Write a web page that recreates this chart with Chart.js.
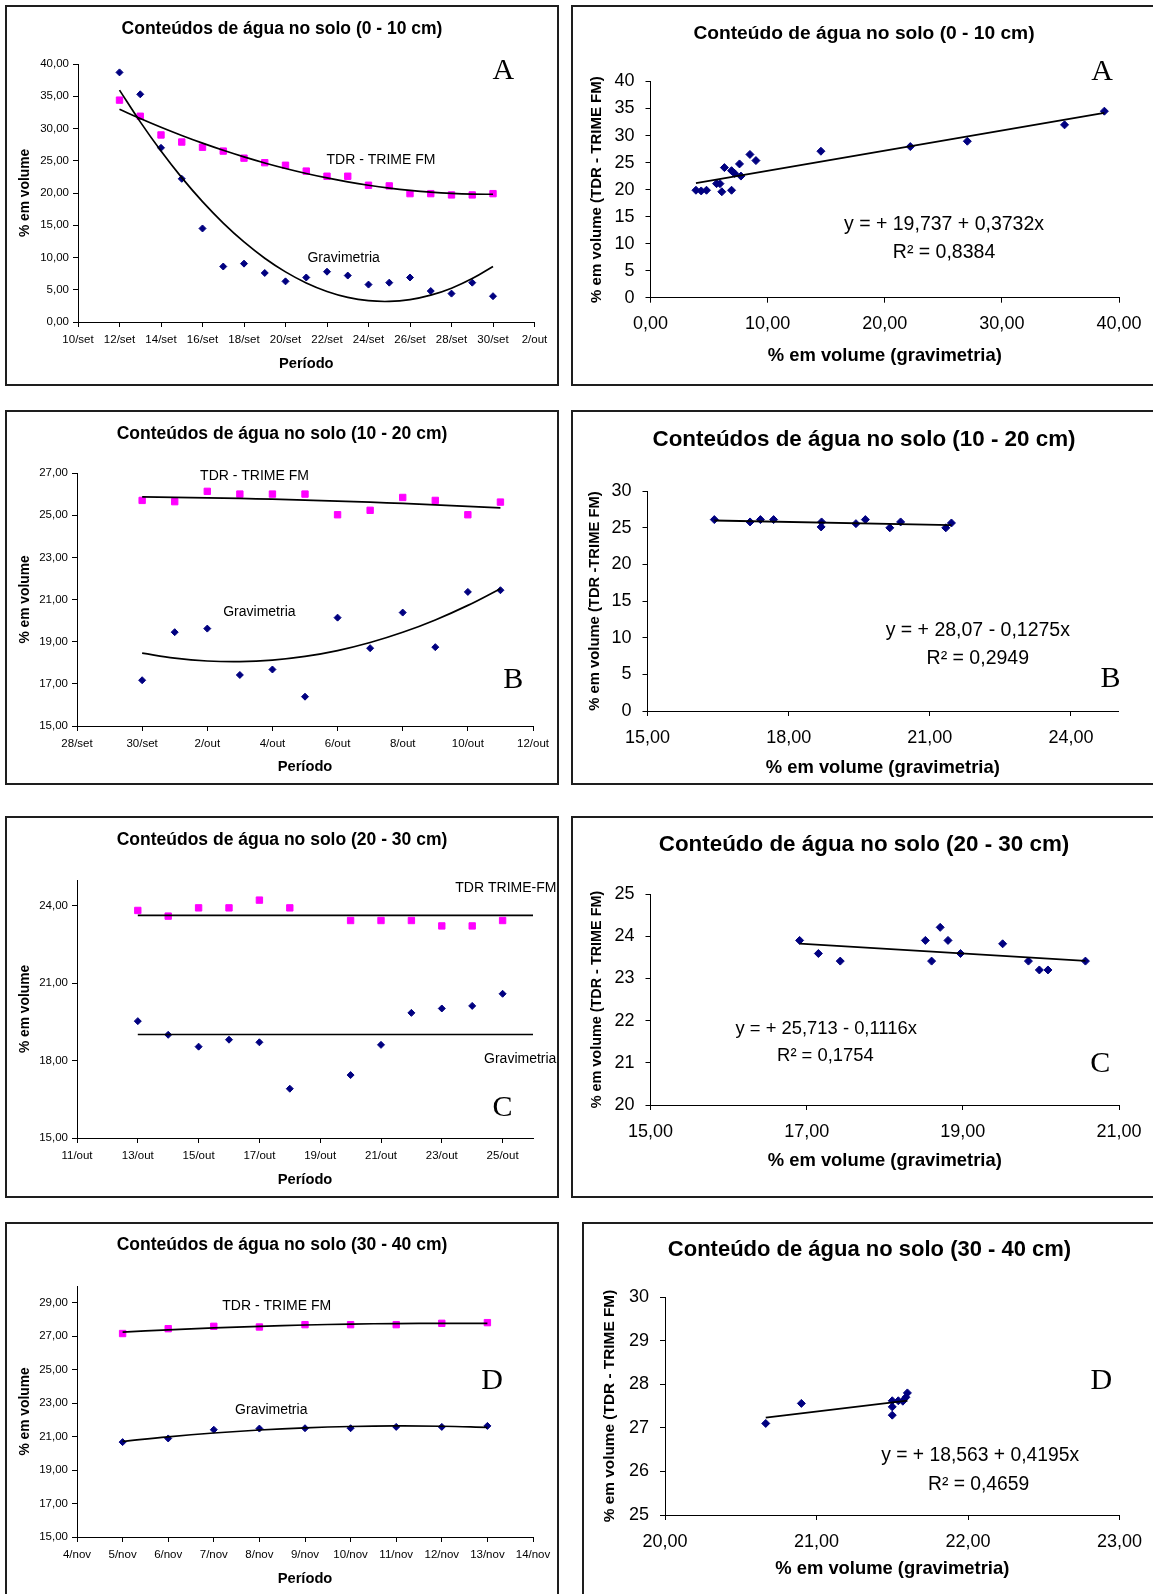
<!DOCTYPE html>
<html lang="pt">
<head>
<meta charset="utf-8">
<title>Conteúdos de água no solo</title>
<script src="https://cdn.jsdelivr.net/npm/chart.js@4.4.1/dist/chart.umd.min.js"></script>
<style>
  html, body { margin: 0; padding: 0; background: #fff; }
  body { width: 1153px; height: 1594px; position: relative; overflow: hidden; }
  canvas { position: absolute; }
  .box { position: absolute; border: 2px solid #1e1e1e; box-sizing: border-box; }
</style>
</head>
<body>
<script>
// ---- data : 0 - 10 cm (setembro) ----
const diasA = [12, 13, 14, 15, 16, 17, 18, 19, 20, 21, 22, 23, 24, 25, 26, 27, 28, 29, 30];
const gravA = [38.7, 35.3, 27.0, 22.2, 14.5, 8.6, 9.05, 7.6, 6.3, 6.9, 7.8, 7.2, 5.8, 6.1, 6.9, 4.8, 4.4, 6.1, 4.0];
const tdrA  = [34.4, 31.9, 29.0, 27.9, 27.1, 26.5, 25.4, 24.7, 24.3, 23.4, 22.6, 22.6, 21.2, 21.1, 19.9, 19.9, 19.7, 19.7, 19.9];
const ticksAx = [10, 12, 14, 16, 18, 20, 22, 24, 26, 28, 30, 32];
const labelsAx = ['10/set', '12/set', '14/set', '16/set', '18/set', '20/set', '22/set', '24/set', '26/set', '28/set', '30/set', '2/out'];
const ticksAy = [0, 5, 10, 15, 20, 25, 30, 35, 40];
const scGravA = [3.88, 4.33, 4.78, 5.64, 5.93, 6.09, 6.31, 6.92, 6.92, 7.18, 7.6, 7.72, 8.49, 9.0, 14.55, 22.18, 27.05, 35.35, 38.75];
const scTdrA  = [19.88, 19.75, 19.88, 21.1, 21.1, 19.6, 24.07, 19.88, 23.5, 23.0, 24.75, 22.5, 26.5, 25.37, 27.1, 27.96, 28.95, 31.98, 34.51];
const eqA = [19.737, 0.3732];

// ---- data : 10 - 20 cm (30/set = 30, 1/out = 31 ...) ----
const diasB = [30, 31, 32, 33, 34, 35, 36, 37, 38, 39, 40, 41];
const gravB = [17.17, 19.45, 19.62, 17.42, 17.68, 16.39, 20.14, 18.69, 20.38, 18.74, 21.36, 21.44];
const tdrB  = [25.70, 25.64, 26.13, 26.0, 26.0, 26.0, 25.02, 25.23, 25.84, 25.70, 25.02, 25.62];
const ticksBx = [28, 30, 32, 34, 36, 38, 40, 42];
const labelsBx = ['28/set', '30/set', '2/out', '4/out', '6/out', '8/out', '10/out', '12/out'];
const ticksBy = [15, 17, 19, 21, 23, 25, 27];
const scGravB = [16.42, 17.18, 17.4, 17.68, 18.69, 18.7, 19.43, 19.63, 20.15, 20.38, 21.34, 21.46];
const scTdrB  = [26.1, 25.78, 26.1, 26.1, 25.1, 25.78, 25.55, 26.1, 24.98, 25.78, 24.98, 25.64];
const eqB = [28.07, -0.1275];

// ---- data : 20 - 30 cm (outubro) ----
const diasC = [13, 14, 15, 16, 17, 18, 20, 21, 22, 23, 24, 25];
const gravC = [19.53, 19.0, 18.54, 18.81, 18.71, 16.91, 17.44, 18.61, 19.85, 20.02, 20.12, 20.59];
const tdrC  = [23.82, 23.6, 23.92, 23.92, 24.22, 23.92, 23.43, 23.43, 23.43, 23.22, 23.22, 23.43];
const ticksCx = [11, 13, 15, 17, 19, 21, 23, 25];
const labelsCx = ['11/out', '13/out', '15/out', '17/out', '19/out', '21/out', '23/out', '25/out'];
const ticksCy = [15, 18, 21, 24];
const scGravC = [16.91, 17.15, 17.43, 18.52, 18.60, 18.71, 18.81, 18.97, 19.51, 19.84, 19.98, 20.09, 20.57];
const scTdrC  = [23.90, 23.59, 23.41, 23.90, 23.41, 24.21, 23.90, 23.59, 23.82, 23.41, 23.20, 23.20, 23.41];
const eqC = [25.713, -0.1116];

// ---- data : 30 - 40 cm (novembro) ----
const diasD = [5, 6, 7, 8, 9, 10, 11, 12, 13];
const gravD = [20.67, 20.89, 21.41, 21.48, 21.50, 21.50, 21.58, 21.58, 21.64];
const tdrD  = [27.16, 27.45, 27.59, 27.55, 27.69, 27.69, 27.69, 27.77, 27.81];
const ticksDx = [4, 5, 6, 7, 8, 9, 10, 11, 12, 13, 14];
const labelsDx = ['4/nov', '5/nov', '6/nov', '7/nov', '8/nov', '9/nov', '10/nov', '11/nov', '12/nov', '13/nov', '14/nov'];
const ticksDy = [15, 17, 19, 21, 23, 25, 27, 29];
const scGravD = [20.665, 20.90, 21.50, 21.50, 21.50, 21.54, 21.57, 21.59, 21.60];
const scTdrD  = [27.10, 27.56, 27.62, 27.48, 27.29, 27.62, 27.61, 27.70, 27.80];
const eqD = [18.563, 0.4195];

const FONT = "'Liberation Sans', Arial, sans-serif";
const SERIF = "'Liberation Serif', 'Times New Roman', serif";
Chart.defaults.font.family = FONT;
Chart.defaults.color = '#000';

const fmt2 = v => v.toFixed(2).replace('.', ',');
const fmt0 = v => String(v);

// least squares polynomial (trend line like the spreadsheet one)
function polyFit(xs, ys, order) {
  const n = order + 1, x0 = xs[0];
  const A = [], b = [];
  for (let i = 0; i < n; i++) { A.push(new Array(n).fill(0)); b.push(0); }
  xs.forEach((x, k) => {
    const t = x - x0;
    for (let i = 0; i < n; i++) {
      b[i] += ys[k] * Math.pow(t, i);
      for (let j = 0; j < n; j++) A[i][j] += Math.pow(t, i + j);
    }
  });
  for (let i = 0; i < n; i++) {
    for (let r = i + 1; r < n; r++) {
      const f = A[r][i] / A[i][i];
      for (let c = i; c < n; c++) A[r][c] -= f * A[i][c];
      b[r] -= f * b[i];
    }
  }
  const c = new Array(n).fill(0);
  for (let i = n - 1; i >= 0; i--) {
    let s = b[i];
    for (let j = i + 1; j < n; j++) s -= A[i][j] * c[j];
    c[i] = s / A[i][i];
  }
  return x => c.reduce((acc, ci, i) => acc + ci * Math.pow(x - x0, i), 0);
}

function pts(xs, ys) { return xs.map((x, i) => ({x: x, y: ys[i]})); }

function trendSet(xs, ys, order, xEnd) {
  const f = polyFit(xs, ys, order);
  const xx = xEnd ? [xs[0], xEnd] : xs;
  return { data: xx.map(x => ({x: x, y: f(x)})), showLine: true, pointRadius: 0,
           borderColor: '#000', borderWidth: 1.7, tension: 0.4, fill: false };
}
function lineSet(xs, eq) {
  const lo = Math.min(...xs), hi = Math.max(...xs);
  return { data: [{x: lo, y: eq[0] + eq[1] * lo}, {x: hi, y: eq[0] + eq[1] * hi}],
           showLine: true, pointRadius: 0, borderColor: '#000', borderWidth: 1.8 };
}
function dotSet(xs, ys, style, color, r) {
  return { data: pts(xs, ys), pointStyle: style, pointRadius: r, pointBorderWidth: 1,
           backgroundColor: color, borderColor: color, showLine: false };
}

// free text: chart title (canvas pixels) and notes placed in data units
function notesPlugin(title, items) {
  return {
    id: 'notes',
    afterDatasetsDraw(chart) {
      const ctx = chart.ctx, sx = chart.scales.x, sy = chart.scales.y;
      ctx.save();
      ctx.fillStyle = '#000';
      ctx.textBaseline = 'middle';
      ctx.textAlign = 'center';
      ctx.font = title.font;
      ctx.fillText(title.text, chart.width / 2, title.y);
      items.forEach(n => {
        ctx.font = n.font;
        ctx.textAlign = n.align || 'center';
        ctx.fillText(n.text, sx.getPixelForValue(n.x), sy.getPixelForValue(n.y));
      });
      ctx.restore();
    }
  };
}

function axis(s, title, tsize, tpad, fit) {
  return {
    type: 'linear', min: s.min, max: s.max,
    afterBuildTicks: sc => { sc.ticks = s.ticks.map(v => ({value: v})); },
    afterFit: fit,
    ticks: { callback: s.label, font: {size: s.font}, color: '#000', padding: s.pad,
             maxRotation: 0, autoSkip: false },
    grid: { drawOnChartArea: false, color: '#000', tickLength: 5 },
    border: { color: '#000', width: 1 },
    title: { display: true, text: title, color: '#000', font: {size: tsize, weight: 'bold'}, padding: tpad }
  };
}

function draw(p, datasets) {
  const b = p.box, a = p.area;
  const cv = document.createElement('canvas');
  cv.width = b.w; cv.height = b.h;
  cv.style.left = b.x + 'px'; cv.style.top = b.y + 'px';
  document.body.appendChild(cv);
  const frame = document.createElement('div');
  frame.className = 'box';
  Object.assign(frame.style, {left: b.x + 'px', top: b.y + 'px', width: b.w + 'px', height: b.h + 'px'});
  document.body.appendChild(frame);

  const lh = s => s * 1.2;
  const axisW = a.l - b.x, axisH = b.y + b.h - a.b;

  new Chart(cv, {
    type: 'scatter',
    data: { datasets: datasets },
    options: {
      responsive: false, animation: false, events: [],
      layout: { padding: { left: 0, top: a.t - b.y, right: b.x + b.w - a.r, bottom: 0 } },
      plugins: { legend: { display: false }, tooltip: { enabled: false }, title: { display: false } },
      scales: {
        x: axis(p.x, p.xTitle, p.xTitleSize,
                { top: 0, bottom: b.y + b.h - p.xTitleY - lh(p.xTitleSize) / 2 },
                s => { s.height = axisH; s.paddingLeft = 0; s.paddingRight = 0; }),
        y: axis(p.y, p.yTitle, p.yTitleSize,
                { top: p.yTitleX - b.x - lh(p.yTitleSize) / 2, bottom: 0 },
                s => { s.width = axisW; })
      }
    },
    plugins: [notesPlugin({ text: p.title, y: p.titleY - b.y, font: 'bold ' + p.titleSize + 'px ' + FONT }, p.notes)]
  });
}

const small = '14px ' + FONT;
const letter = '30px ' + SERIF;

function timePanel(p, dias, grav, tdr, order, xEnd) {
  p.titleSize = 17.5;
  p.xTitle = 'Período'; p.xTitleSize = 14.7;
  p.yTitle = '% em volume'; p.yTitleSize = 13.8; p.yTitleX = 25.5;
  p.x.font = 11.5; p.x.pad = 6; p.y.font = 11.5; p.y.pad = 4;
  draw(p, [
    trendSet(dias, tdr, order, xEnd),
    trendSet(dias, grav, order, xEnd),
    dotSet(dias, tdr, 'rect', '#ff00ff', 4.5),
    dotSet(dias, grav, 'rectRot', '#000080', 3.5)
  ]);
}

function scatterPanel(p, gx, ty, eq) {
  p.xTitle = '% em volume (gravimetria)'; p.xTitleSize = 18.4;
  p.x.font = 18; p.x.pad = 11; p.y.font = 18; p.y.pad = 11;
  draw(p, [lineSet(gx, eq), dotSet(gx, ty, 'rectRot', '#000080', 4)]);
}

// ---- A ----
timePanel({
  box: {x: 5, y: 5, w: 554, h: 381}, area: {l: 78, t: 64, r: 534.5, b: 322},
  title: 'Conteúdos de água no solo (0 - 10 cm)', titleY: 29.5, xTitleY: 364,
  x: {min: 10, max: 32, ticks: ticksAx, label: (v, i) => labelsAx[i]},
  y: {min: 0, max: 40, ticks: ticksAy, label: fmt2},
  notes: [
    {text: 'TDR - TRIME FM', x: 24.6, y: 25.1, font: small},
    {text: 'Gravimetria', x: 22.8, y: 9.9, font: small},
    {text: 'A', x: 30.5, y: 38.9, font: letter}
  ]
}, diasA, gravA, tdrA, 2);

scatterPanel({
  box: {x: 571, y: 5, w: 586, h: 381}, area: {l: 650.5, t: 81.5, r: 1119, b: 297.7},
  title: 'Conteúdo de água no solo (0 - 10 cm)', titleSize: 19.2, titleY: 34,
  xTitleY: 356, yTitle: '% em volume (TDR - TRIME FM)', yTitleSize: 15, yTitleX: 597,
  x: {min: 0, max: 40, ticks: [0, 10, 20, 30, 40], label: fmt2},
  y: {min: 0, max: 40, ticks: ticksAy, label: fmt0},
  notes: [
    {text: 'y = + 19,737 + 0,3732x', x: 25.06, y: 13.6, font: '19.5px ' + FONT},
    {text: 'R² = 0,8384', x: 25.06, y: 8.3, font: '19.5px ' + FONT},
    {text: 'A', x: 38.56, y: 41.8, font: letter}
  ]
}, scGravA, scTdrA, eqA);

// ---- B ----
timePanel({
  box: {x: 5, y: 410, w: 554, h: 375}, area: {l: 77, t: 473, r: 533, b: 726},
  title: 'Conteúdos de água no solo (10 - 20 cm)', titleY: 434, xTitleY: 767,
  x: {min: 28, max: 42, ticks: ticksBx, label: (v, i) => labelsBx[i]},
  y: {min: 15, max: 27, ticks: ticksBy, label: fmt2},
  notes: [
    {text: 'TDR - TRIME FM', x: 33.45, y: 26.86, font: small},
    {text: 'Gravimetria', x: 33.6, y: 20.4, font: small},
    {text: 'B', x: 41.39, y: 17.18, font: letter}
  ]
}, diasB, gravB, tdrB, 2);

scatterPanel({
  box: {x: 571, y: 410, w: 586, h: 375}, area: {l: 647.5, t: 491, r: 1118, b: 711},
  title: 'Conteúdos de água no solo (10 - 20 cm)', titleSize: 22.4, titleY: 440,
  xTitleY: 768, yTitle: '% em volume (TDR -TRIME FM)', yTitleSize: 14.8, yTitleX: 595,
  x: {min: 15, max: 25, ticks: [15, 18, 21, 24], label: fmt2},
  y: {min: 0, max: 30, ticks: [0, 5, 10, 15, 20, 25, 30], label: fmt0},
  notes: [
    {text: 'y = + 28,07 - 0,1275x', x: 22.02, y: 11.0, font: '19.5px ' + FONT},
    {text: 'R² = 0,2949', x: 22.02, y: 7.2, font: '19.5px ' + FONT},
    {text: 'B', x: 24.84, y: 4.35, font: letter}
  ]
}, scGravB, scTdrB, eqB);

// ---- C ----
timePanel({
  box: {x: 5, y: 816, w: 554, h: 382}, area: {l: 77, t: 880, r: 533, b: 1138},
  title: 'Conteúdos de água no solo (20 - 30 cm)', titleY: 840, xTitleY: 1180,
  x: {min: 11, max: 26, ticks: ticksCx, label: (v, i) => labelsCx[i]},
  y: {min: 15, max: 25, ticks: ticksCy, label: fmt2},
  notes: [
    {text: 'TDR TRIME-FM', x: 26.77, y: 24.69, font: small, align: 'right'},
    {text: 'Gravimetria', x: 26.77, y: 18.06, font: small, align: 'right'},
    {text: 'C', x: 25.0, y: 16.16, font: letter}
  ]
}, diasC, gravC, tdrC, 0, 26);

scatterPanel({
  box: {x: 571, y: 816, w: 586, h: 382}, area: {l: 650.5, t: 894, r: 1119, b: 1105},
  title: 'Conteúdo de água no solo (20 - 30 cm)', titleSize: 22.4, titleY: 845,
  xTitleY: 1161, yTitle: '% em volume (TDR - TRIME FM)', yTitleSize: 14.4, yTitleX: 597,
  x: {min: 15, max: 21, ticks: [15, 17, 19, 21], label: fmt2},
  y: {min: 20, max: 25, ticks: [20, 21, 22, 23, 24, 25], label: fmt0},
  notes: [
    {text: 'y = + 25,713 - 0,1116x', x: 17.25, y: 21.8, font: '18.4px ' + FONT},
    {text: 'R² = 0,1754', x: 17.24, y: 21.16, font: '18.4px ' + FONT},
    {text: 'C', x: 20.76, y: 20.97, font: letter}
  ]
}, scGravC, scTdrC, eqC);

// ---- D ----
timePanel({
  box: {x: 5, y: 1222, w: 554, h: 380}, area: {l: 77, t: 1286, r: 533, b: 1537},
  title: 'Conteúdos de água no solo (30 - 40 cm)', titleY: 1245, xTitleY: 1579,
  x: {min: 4, max: 14, ticks: ticksDx, label: (v, i) => labelsDx[i]},
  y: {min: 15, max: 30, ticks: ticksDy, label: fmt2},
  notes: [
    {text: 'TDR - TRIME FM', x: 8.38, y: 28.8, font: small},
    {text: 'Gravimetria', x: 8.26, y: 22.59, font: small},
    {text: 'D', x: 13.1, y: 24.32, font: letter}
  ]
}, diasD, gravD, tdrD, 2);

scatterPanel({
  box: {x: 582, y: 1222, w: 575, h: 380}, area: {l: 665, t: 1297, r: 1119.5, b: 1515},
  title: 'Conteúdo de água no solo (30 - 40 cm)', titleSize: 22, titleY: 1250,
  xTitleY: 1569, yTitle: '% em volume (TDR - TRIME FM)', yTitleSize: 15.4, yTitleX: 610,
  x: {min: 20, max: 23, ticks: [20, 21, 22, 23], label: fmt2},
  y: {min: 25, max: 30, ticks: [25, 26, 27, 28, 29, 30], label: fmt0},
  notes: [
    {text: 'y = + 18,563 + 0,4195x', x: 22.08, y: 26.35, font: '19.3px ' + FONT},
    {text: 'R² = 0,4659', x: 22.07, y: 25.69, font: '19.3px ' + FONT},
    {text: 'D', x: 22.88, y: 28.07, font: letter}
  ]
}, scGravD, scTdrD, eqD);
</script>
</body>
</html>
